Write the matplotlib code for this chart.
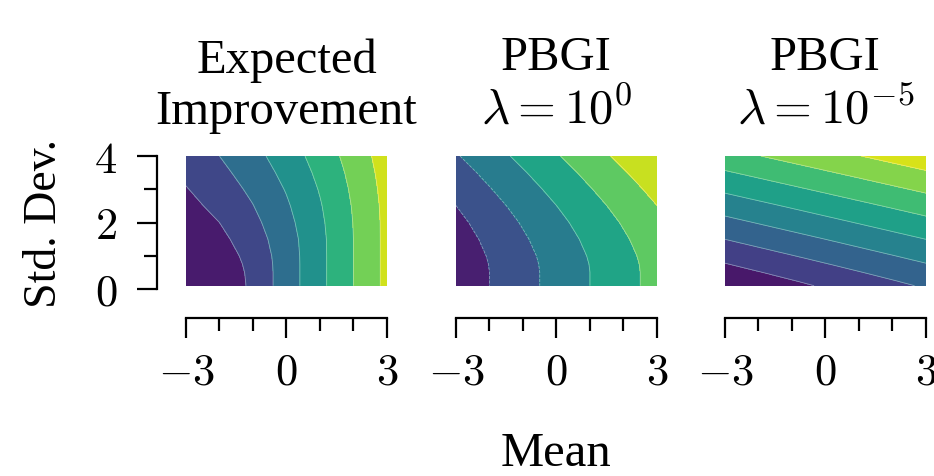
import numpy as np
import matplotlib
matplotlib.use('Agg')
import matplotlib.pyplot as plt
from matplotlib.ticker import MultipleLocator

plt.rcParams['font.family'] = 'serif'
plt.rcParams['font.serif'] = ['Liberation Serif', 'DejaVu Serif']
plt.rcParams['mathtext.fontset'] = 'cm'

# grid
means = [-3, -2, -1, 0, 1, 2, 3]
stds = [0.1, 0.25, 0.5, 0.75, 1.0, 1.5, 2.0, 2.5, 3.0, 3.5, 4.0]

# expected improvement (one row per std)
ei_vals = [
    [0.00, 0.04, 1.00, 2.00, 3.00, 4.00, 5.00],
    [0.00, 0.10, 1.00, 2.00, 3.00, 4.00, 5.00],
    [0.00, 0.20, 1.00, 2.00, 3.00, 4.00, 5.00],
    [0.03, 0.30, 1.03, 2.00, 3.00, 4.00, 5.00],
    [0.08, 0.40, 1.08, 2.01, 3.00, 4.00, 5.00],
    [0.23, 0.60, 1.23, 2.06, 3.01, 4.00, 5.00],
    [0.40, 0.80, 1.40, 2.17, 3.06, 4.02, 5.00],
    [0.58, 1.00, 1.58, 2.30, 3.14, 4.06, 5.02],
    [0.76, 1.20, 1.76, 2.45, 3.25, 4.13, 5.06],
    [0.95, 1.40, 1.95, 2.62, 3.38, 4.22, 5.12],
    [1.15, 1.60, 2.15, 2.79, 3.53, 4.33, 5.20],
]
ei_levels = [0, 0.8, 1.6, 2.4, 3.2, 4.0, 4.8, 5.6]

# PBGI, lambda = 1
pbgi1_vals = [
    [-4.00, -3.00, -2.00, -1.00, 0.00, 1.00, 2.00],
    [-4.00, -3.00, -2.00, -1.00, 0.00, 1.00, 2.00],
    [-4.00, -3.00, -2.00, -1.00, 0.00, 1.00, 2.00],
    [-3.97, -2.97, -1.97, -0.97, 0.03, 1.03, 2.03],
    [-3.90, -2.90, -1.90, -0.90, 0.10, 1.10, 2.10],
    [-3.68, -2.68, -1.68, -0.68, 0.32, 1.32, 2.32],
    [-3.38, -2.38, -1.38, -0.38, 0.62, 1.62, 2.62],
    [-3.01, -2.01, -1.01, -0.01, 0.99, 1.99, 2.99],
    [-2.58, -1.58, -0.58, 0.42, 1.42, 2.42, 3.42],
    [-2.12, -1.12, -0.12, 0.88, 1.88, 2.88, 3.88],
    [-1.62, -0.62, 0.38, 1.38, 2.38, 3.38, 4.38],
]
pbgi1_levels = [-4.5, -3, -1.5, 0, 1.5, 3, 4.5]

# PBGI, lambda = 1e-5
pbgi2_vals = [
    [-2.66, -1.66, -0.66, 0.34, 1.34, 2.34, 3.34],
    [-2.10, -1.10, -0.10, 0.90, 1.90, 2.90, 3.90],
    [-1.12, -0.12, 0.88, 1.88, 2.88, 3.88, 4.88],
    [-0.11, 0.89, 1.89, 2.89, 3.89, 4.89, 5.89],
    [0.92, 1.92, 2.92, 3.92, 4.92, 5.92, 6.92],
    [3.02, 4.02, 5.02, 6.02, 7.02, 8.02, 9.02],
    [5.16, 6.16, 7.16, 8.16, 9.16, 10.16, 11.16],
    [7.32, 8.32, 9.32, 10.32, 11.32, 12.32, 13.32],
    [9.51, 10.51, 11.51, 12.51, 13.51, 14.51, 15.51],
    [11.71, 12.71, 13.71, 14.71, 15.71, 16.71, 17.71],
    [13.93, 14.93, 15.93, 16.93, 17.93, 18.93, 19.93],
]
pbgi2_levels = [-3, 0, 3, 6, 9, 12, 15, 18, 21]

titles = ['Expected\nImprovement', 'PBGI\n$\\lambda = 10^{0}$', 'PBGI\n$\\lambda = 10^{-5}$']
panels = [(ei_vals, ei_levels), (pbgi1_vals, pbgi1_levels), (pbgi2_vals, pbgi2_levels)]

fig = plt.figure(figsize=(4.67, 2.385), dpi=200)
lefts = [0.1991, 0.4882, 0.7762]
fs = 16
fs_big = 17.5

for i, (vals, lev) in enumerate(panels):
    ax = fig.add_axes([lefts[i], 0.392, 0.2152, 0.2788])
    ax.contourf(means, stds, vals, levels=lev, cmap='viridis')
    ax.contour(means, stds, vals, levels=lev[1:-1], colors='white',
               linewidths=0.3, alpha=0.4)
    ax.set_xlim(-3, 3)
    ax.set_ylim(0, 4)
    ax.set_title(titles[i], fontsize=fs_big, pad=12)

    for s in ['top', 'right']:
        ax.spines[s].set_visible(False)
    ax.spines['bottom'].set_position(('outward', 10.6))
    ax.spines['bottom'].set_bounds(-3, 3)
    ax.spines['bottom'].set_linewidth(0.8)
    ax.set_xticks([-3, 0, 3], labels=['$-3$', '$0$', '$3$'])
    ax.xaxis.set_minor_locator(MultipleLocator(1))
    ax.tick_params(axis='x', which='major', length=7.2, width=0.8,
                   labelsize=fs, pad=5)
    ax.tick_params(axis='x', which='minor', length=4.7, width=0.8)

    if i == 0:
        ax.spines['left'].set_position(('outward', 10.6))
        ax.spines['left'].set_bounds(0, 4)
        ax.spines['left'].set_linewidth(0.8)
        ax.set_yticks([0, 2, 4], labels=['$0$', '$2$', '$4$'])
        ax.yaxis.set_minor_locator(MultipleLocator(1))
        ax.tick_params(axis='y', which='major', length=7.2, width=0.8,
                       labelsize=fs, pad=7)
        ax.tick_params(axis='y', which='minor', length=4.7, width=0.8)
        ax.set_ylabel('Std. Dev.', fontsize=16.5, labelpad=10)
    else:
        ax.spines['left'].set_visible(False)
        ax.set_yticks([])
    if i == 1:
        ax.set_xlabel('Mean', fontsize=fs_big, labelpad=14)

fig.savefig('out.png', dpi=200)
